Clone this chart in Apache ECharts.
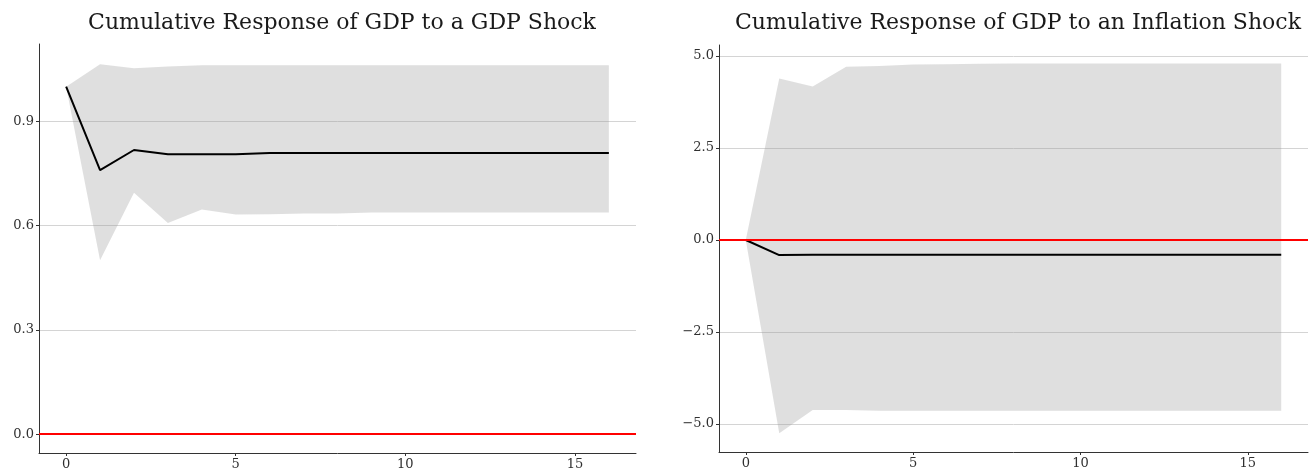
<!DOCTYPE html>
<html><head><meta charset="utf-8">
<script src="https://cdn.jsdelivr.net/npm/echarts@6/dist/echarts.min.js"></script>
<style>html,body{margin:0;padding:0;background:#fff}#c{width:1313px;height:476px}</style>
</head><body><div id="c"></div>
<script>
const horizons = [0,1,2,3,4,5,6,7,8,9,10,11,12,13,14,15,16];
const gdpResp  = [1.000,0.760,0.818,0.806,0.806,0.806,0.809,0.809,0.809,0.809,0.809,0.809,0.809,0.809,0.809,0.809,0.809];
const gdpLower = [1.000,0.501,0.695,0.608,0.647,0.632,0.633,0.635,0.635,0.638,0.638,0.638,0.638,0.638,0.638,0.638,0.638];
const gdpUpper = [1.000,1.065,1.053,1.058,1.062,1.062,1.062,1.062,1.062,1.062,1.062,1.062,1.062,1.062,1.062,1.062,1.062];
const infResp  = [0.00,-0.41,-0.40,-0.40,-0.40,-0.40,-0.40,-0.40,-0.40,-0.40,-0.40,-0.40,-0.40,-0.40,-0.40,-0.40,-0.40];
const infLower = [0.00,-5.25,-4.62,-4.62,-4.64,-4.64,-4.64,-4.64,-4.64,-4.64,-4.64,-4.64,-4.64,-4.64,-4.64,-4.64,-4.64];
const infUpper = [0.00,4.39,4.17,4.71,4.73,4.77,4.78,4.79,4.80,4.80,4.80,4.80,4.80,4.80,4.80,4.80,4.80];
const xTicks = [0,5,10,15];
const gdpTicks = [0,0.3,0.6,0.9];
const infTicks = [-5,-2.5,0,2.5,5];
const titles = ['Cumulative Response of GDP to a GDP Shock','Cumulative Response of GDP to an Inflation Shock'];

const FONT = '"DejaVu Serif", "Liberation Serif", serif';
const pair = (xs, ys) => xs.map((x,i)=>[x, ys[i]]);
const fmt = v => (v < 0 ? '\u2212' : '') + Math.abs(v).toFixed(1);

function xAx(gi){ return {
  type:'value', gridIndex:gi, min:-0.8, max:16.8,
  axisLine:{show:true, onZero:false, lineStyle:{color:'#333', width:1}},
  axisTick:{show:true, length:3, customValues:xTicks, lineStyle:{color:'#333'}},
  axisLabel:{customValues:xTicks, color:'#303030', fontFamily:FONT, fontSize:13, margin:5},
  splitLine:{show:false}
};}
function yAx(gi, min, max, ticks){ return {
  type:'value', gridIndex:gi, min:min, max:max,
  axisLine:{show:true, onZero:false, lineStyle:{color:'#333', width:1}},
  axisTick:{show:true, length:3, customValues:ticks, lineStyle:{color:'#333'}},
  axisLabel:{customValues:ticks, color:'#303030', fontFamily:FONT, fontSize:13, margin:5, formatter:fmt},
  splitLine:{show:true, lineStyle:{color:'#d4d4d4', width:1}}
};}
function panel(gi, lower, upper, resp){
  return [
    {type:'line', xAxisIndex:gi, yAxisIndex:gi, data:[], z:1, silent:true,
     markLine:{silent:true, symbol:'none', label:{show:false},
       lineStyle:{color:'#ff0000', width:2, type:'solid'}, data:[{yAxis:0}]}},
    {type:'custom', xAxisIndex:gi, yAxisIndex:gi, data:[[0,0]], z:2, silent:true, clip:true,
     renderItem:function(params, api){
       const pts = [];
       for (let i=0;i<horizons.length;i++) pts.push(api.coord([horizons[i], upper[i]]));
       for (let i=horizons.length-1;i>=0;i--) pts.push(api.coord([horizons[i], lower[i]]));
       return {type:'polygon', shape:{points:pts}, style:{fill:'rgba(150,150,150,0.3)', stroke:null}};
     }},
    {type:'line', xAxisIndex:gi, yAxisIndex:gi, data:pair(horizons, resp), symbol:'none',
     lineStyle:{color:'#000', width:2}, z:3, silent:true}
  ];
}
const chart = echarts.init(document.getElementById('c'), null, {renderer:'canvas'});
chart.setOption({
  animation:false,
  backgroundColor:'#fff',
  title:[
    {text:titles[0], left:337, top:7, textAlign:'center', textStyle:{fontFamily:FONT, fontSize:22, fontWeight:'normal', color:'#1a1a1a'}},
    {text:titles[1], left:1013, top:7, textAlign:'center', textStyle:{fontFamily:FONT, fontSize:22, fontWeight:'normal', color:'#1a1a1a'}}
  ],
  grid:[
    {left:39, right:1313-636, top:44, bottom:23, containLabel:false},
    {left:719, right:5, top:45, bottom:24, containLabel:false}
  ],
  xAxis:[xAx(0), xAx(1)],
  yAxis:[yAx(0,-0.054,1.123,gdpTicks), yAx(1,-5.76,5.30,infTicks)],
  series:[...panel(0,gdpLower,gdpUpper,gdpResp), ...panel(1,infLower,infUpper,infResp)]
});
</script></body></html>
